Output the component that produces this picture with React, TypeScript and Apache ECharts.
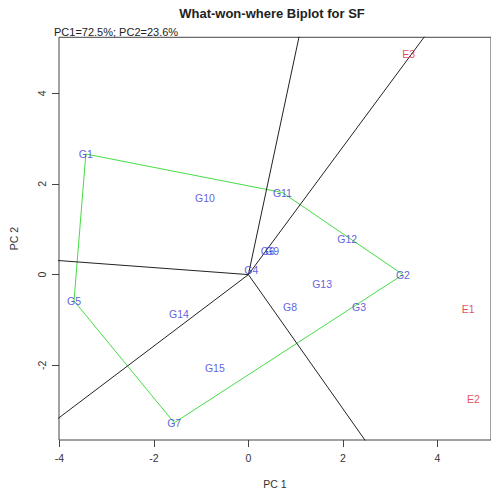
import React, { useEffect, useRef } from "react";
import * as echarts from "echarts";

const genotypes = ["G1", "G2", "G3", "G4", "G5", "G6", "G7", "G8", "G9", "G10", "G11", "G12", "G13", "G14", "G15"];
const genoPC1 = [-3.44, 3.27, 2.34, 0.06, -3.69, 0.41, -1.57, 0.88, 0.5, -0.92, 0.72, 2.09, 1.56, -1.47, -0.71];
const genoPC2 = [2.66, 0.0, -0.72, 0.1, -0.58, 0.51, -3.27, -0.72, 0.51, 1.68, 1.81, 0.79, -0.21, -0.87, -2.07];
const envs = ["E1", "E2", "E3"];
const envPC1 = [4.65, 4.76, 3.39];
const envPC2 = [-0.76, -2.75, 4.87];
const hull = ["G1", "G11", "G2", "G7", "G5"];
const xTicks = [-4, -2, 0, 2, 4];
const yTicks = [-2, 0, 2, 4];
const titleText = "What-won-where Biplot for SF";
const subText = "PC1=72.5%; PC2=23.6%";

const FONT = "Liberation Sans, Arial, sans-serif";

export default function App() {
  const ref = useRef<HTMLDivElement>(null);
  useEffect(() => {
    if (!ref.current) return;
    const chart = echarts.init(ref.current, null, { renderer: "svg" });
    const pt = (n: string) => {
      const i = genotypes.indexOf(n);
      return [genoPC1[i], genoPC2[i]];
    };
    const hullPts = hull.map(pt);
    const polygon = [...hullPts, hullPts[0]];
    const rays: any[] = [];
    for (let k = 0; k < hullPts.length; k++) {
      const A = hullPts[k];
      const B = hullPts[(k + 1) % hullPts.length];
      const d = [B[0] - A[0], B[1] - A[1]];
      const t = -(A[0] * d[0] + A[1] * d[1]) / (d[0] * d[0] + d[1] * d[1]);
      const P = [A[0] + t * d[0], A[1] + t * d[1]];
      const len = Math.hypot(P[0], P[1]);
      const L = 50;
      rays.push({
        type: "line",
        data: [
          [0, 0],
          [(P[0] / len) * L, (P[1] / len) * L],
        ],
        symbol: "none",
        clip: true,
        silent: true,
        lineStyle: { color: "#222", width: 1 },
        z: 2,
      });
    }
    const labelSeries = (names: string[], xs: number[], ys: number[], color: string) => ({
      type: "scatter",
      data: names.map((n, i) => ({ name: n, value: [xs[i], ys[i]] })),
      symbolSize: 1,
      itemStyle: { color: "rgba(0,0,0,0)" },
      label: {
        show: true,
        position: "inside",
        formatter: "{b}",
        color,
        fontSize: 10.5,
        fontFamily: FONT,
      },
      z: 3,
    });
    chart.setOption({
      animation: false,
      textStyle: { fontFamily: FONT },
      graphic: [
        {
          type: "text",
          x: 272,
          y: 13,
          style: {
            text: titleText,
            textAlign: "center",
            textVerticalAlign: "middle",
            fontSize: 13,
            fontWeight: "bold",
            fontFamily: FONT,
            fill: "#222",
          },
        },
        {
          type: "text",
          x: 54,
          y: 32,
          style: {
            text: subText,
            textAlign: "left",
            textVerticalAlign: "middle",
            fontSize: 11,
            fontFamily: FONT,
            fill: "#222",
          },
        },
      ],
      grid: {
        left: 55.3,
        top: 37.3,
        right: -2,
        bottom: 55,
        show: true,
        borderColor: "#444",
        borderWidth: 1,
        backgroundColor: "transparent",
      },
      xAxis: {
        type: "value",
        min: -4.008,
        max: 5.134,
        name: "PC 1",
        nameLocation: "middle",
        nameGap: 38,
        nameTextStyle: { fontSize: 10.5, color: "#333", fontFamily: FONT },
        splitLine: { show: false },
        axisLine: { show: false, onZero: false },
        axisTick: { show: true, length: 7, inside: false, customValues: xTicks, lineStyle: { color: "#444" } },
        axisLabel: { customValues: xTicks, margin: 12, fontSize: 10.5, color: "#333", fontFamily: FONT },
      },
      yAxis: {
        type: "value",
        min: -3.649,
        max: 5.235,
        name: "PC 2",
        nameLocation: "middle",
        nameRotate: 90,
        nameGap: 40,
        nameTextStyle: { fontSize: 10.5, color: "#333", fontFamily: FONT },
        splitLine: { show: false },
        axisLine: { show: false, onZero: false },
        axisTick: { show: true, length: 7, inside: false, customValues: yTicks, lineStyle: { color: "#444" } },
        axisLabel: { customValues: yTicks, rotate: 90, margin: 12, fontSize: 10.5, color: "#333", fontFamily: FONT },
      },
      series: [
        {
          type: "line",
          data: polygon,
          symbol: "none",
          clip: true,
          silent: true,
          lineStyle: { color: "#44dd44", width: 1 },
          z: 2,
        },
        ...rays,
        labelSeries(genotypes, genoPC1, genoPC2, "#3535d5"),
        labelSeries(envs, envPC1, envPC2, "#d81e36"),
      ],
    });
    return () => chart.dispose();
  }, []);
  return (
    <div
      ref={ref}
      style={{ position: "fixed", left: 0, top: 0, width: 491, height: 495, background: "#fff" }}
    />
  );
}
